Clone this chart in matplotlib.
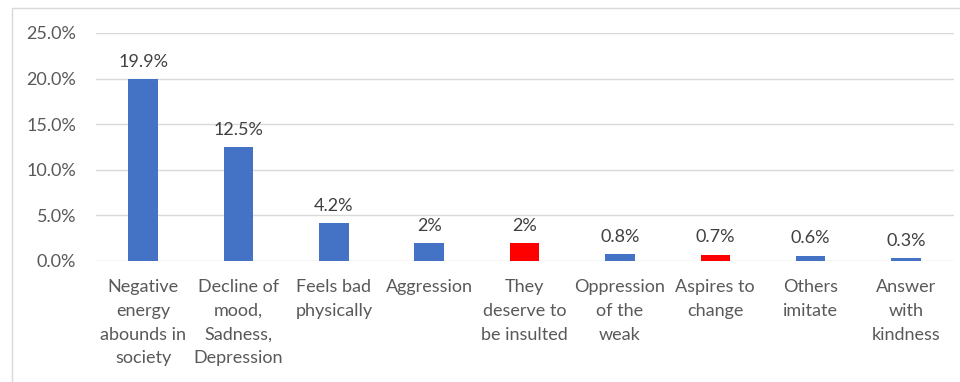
import matplotlib.pyplot as plt
from matplotlib.patches import Rectangle

categories = ["Negative\nenergy\nabounds in\nsociety", "Decline of\nmood,\nSadness,\nDepression",
              "Feels bad\nphysically", "Aggression", "They\ndeserve to\nbe insulted",
              "Oppression\nof the\nweak", "Aspires to\nchange", "Others\nimitate",
              "Answer\nwith\nkindness"]
values = [19.9, 12.5, 4.2, 2.0, 2.0, 0.8, 0.7, 0.6, 0.3]
labels = ["19.9%", "12.5%", "4.2%", "2%", "2%", "0.8%", "0.7%", "0.6%", "0.3%"]
colors = ["#4472C4", "#4472C4", "#4472C4", "#4472C4", "#FF0000",
          "#4472C4", "#FF0000", "#4472C4", "#4472C4"]
yticks = [0, 5, 10, 15, 20, 25]

plt.rcParams['font.family'] = ['Lato', 'DejaVu Sans']
txt = "#595959"

fig = plt.figure(figsize=(9.6, 3.82), dpi=100)
fig.patches.append(Rectangle((12 / 960, -0.1), 950 / 960, 1.1 - 8 / 382, transform=fig.transFigure,
                             fill=False, edgecolor="#D9D9D9", linewidth=1))
ax = fig.add_axes([0.0995, 0.3168, 0.8939, 0.5969])

x = range(len(categories))
ax.bar(x, values, width=0.31, color=colors, zorder=3)
for i, v in enumerate(values):
    ax.text(i, v + 1.0, labels[i], ha="center", va="bottom", fontsize=13, color="#404040")

ax.set_xlim(-0.5, len(categories) - 0.5)
ax.set_ylim(0, 25)
ax.set_yticks(yticks)
ax.set_yticklabels([f"{t:.1f}%" for t in yticks], fontsize=13, color=txt)
ax.set_xticks(list(x))
ax.set_xticklabels(categories, fontsize=13, color=txt, linespacing=1.6, va="top")
ax.tick_params(length=0)
ax.tick_params(axis="y", pad=14)
ax.tick_params(axis="x", pad=13)
ax.grid(axis="y", color="#D9D9D9", linewidth=1, zorder=0)
for s in ax.spines.values():
    s.set_visible(False)

fig.savefig("out.png", dpi=100)
